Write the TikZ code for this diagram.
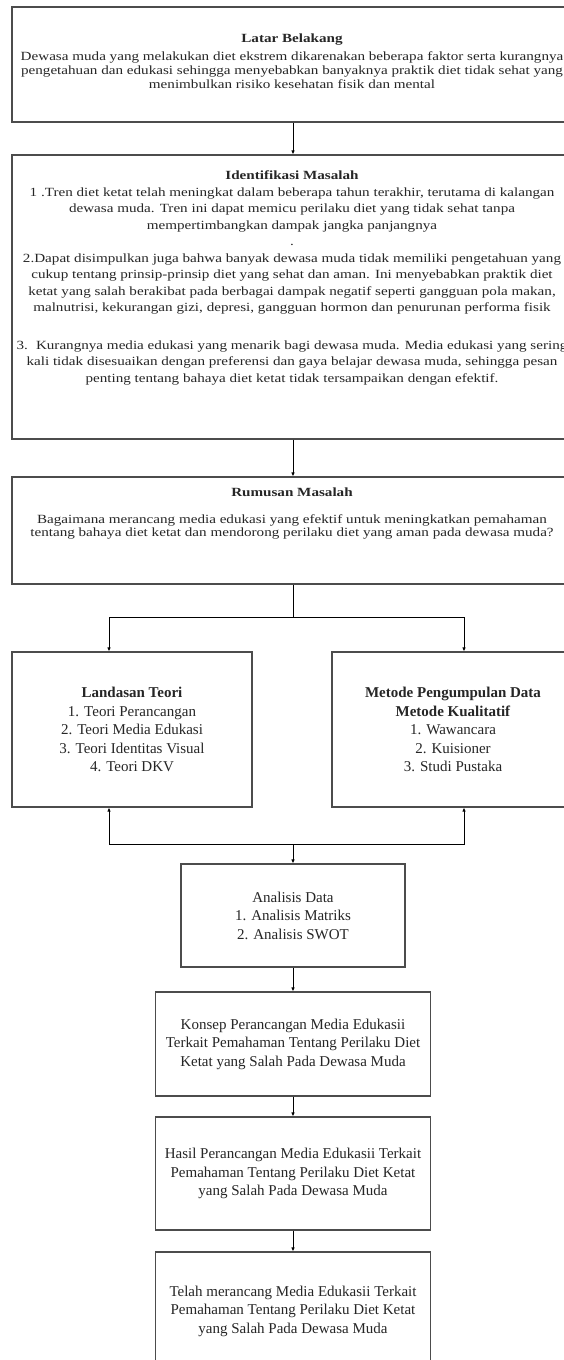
\documentclass[tikz,border=0pt]{standalone}
\usepackage{fontspec}
\setmainfont{Liberation Serif}
\newfontfamily\wideserif[FakeStretch=1.21]{Liberation Serif}
\usetikzlibrary{arrows.meta}

\begin{document}
\begin{tikzpicture}[x=1pt,y=-1pt,
  box/.style={draw=black!70,line width=1.1pt,inner sep=0pt},
  toptext/.style={anchor=north,align=center,inner sep=0pt,text=black!85,
    font=\wideserif\fontsize{12.5}{#1}\selectfont},
  lowtext/.style={align=center,text=black!85,font=\fontsize{15}{18.5}\selectfont},
  arr/.style={-{Latex[length=4pt,width=3.5pt]},line width=0.8pt}]
\useasboundingbox (0,0) rectangle (563,1360);
\fill[white] (0,0) rectangle (563,1360);

% latar belakang
\node[box,minimum width=562pt,minimum height=115pt] (latar) at (293,64.5) {};
\node[toptext=14] (latartext) at (292,33.7) {\textbf{Latar Belakang}\\[3.7pt]
Dewasa muda yang melakukan diet ekstrem dikarenakan beberapa faktor serta kurangnya\\
pengetahuan dan edukasi sehingga menyebabkan banyaknya praktik diet tidak sehat yang\\
menimbulkan risiko kesehatan fisik dan mental};

% identifikasi masalah
\node[box,minimum width=562pt,minimum height=284pt] (identifikasi) at (293,297) {};
\node[toptext=16.5] (identifikasitext) at (292,170.7) {\textbf{Identifikasi Masalah}\\
1 .Tren diet ketat telah meningkat dalam beberapa tahun terakhir, terutama di kalangan\\
dewasa muda. Tren ini dapat memicu perilaku diet yang tidak sehat tanpa\\
mempertimbangkan dampak jangka panjangnya\\
.\\
2.Dapat disimpulkan juga bahwa banyak dewasa muda tidak memiliki pengetahuan yang\\
cukup tentang prinsip-prinsip diet yang sehat dan aman. Ini menyebabkan praktik diet\\
ketat yang salah berakibat pada berbagai dampak negatif seperti gangguan pola makan,\\
malnutrisi, kekurangan gizi, depresi, gangguan hormon dan penurunan performa fisik\\[21pt]
3.\hspace{8pt}Kurangnya media edukasi yang menarik bagi dewasa muda. Media edukasi yang sering\\
kali tidak disesuaikan dengan preferensi dan gaya belajar dewasa muda, sehingga pesan\\
penting tentang bahaya diet ketat tidak tersampaikan dengan efektif.};

% rumusan masalah
\node[box,minimum width=562pt,minimum height=107pt] (rumusan) at (293,530.5) {};
\node[toptext=13.5] (rumusantext) at (292,487.7) {\textbf{Rumusan Masalah}\\[13.2pt]
Bagaimana merancang media edukasi yang efektif untuk meningkatkan pemahaman\\
tentang bahaya diet ketat dan mendorong perilaku diet yang aman pada dewasa muda?};

% landasan dan metode
\node[box,lowtext,minimum width=240pt,minimum height=155pt] (landasan) at (132,729.5)
  {\textbf{Landasan Teori}\\ 1. Teori Perancangan\\ 2. Teori Media Edukasi\\
   3. Teori Identitas Visual\\ 4. Teori DKV};
\node[box,lowtext,minimum width=242pt,minimum height=155pt] (metode) at (453,729.5)
  {\textbf{Metode Pengumpulan Data}\\ \textbf{Metode Kualitatif}\\ 1. Wawancara\\
   2. Kuisioner\\ 3. Studi Pustaka};

% analisis sampai hasil akhir
\node[box,lowtext,minimum width=224pt,minimum height=103pt] (analisis) at (293,915.5)
  {Analisis Data\\ 1. Analisis Matriks\\ 2. Analisis SWOT};
\node[box,lowtext,minimum width=275pt,minimum height=104pt] (konsep) at (293,1044)
  {Konsep Perancangan Media Edukasii\\ Terkait Pemahaman Tentang Perilaku Diet\\
   Ketat yang Salah Pada Dewasa Muda};
\node[box,lowtext,minimum width=275pt,minimum height=113pt] (hasil) at (293,1173.5)
  {Hasil Perancangan Media Edukasii Terkait\\ Pemahaman Tentang Perilaku Diet Ketat\\
   yang Salah Pada Dewasa Muda};
\node[box,lowtext,minimum width=275pt,minimum height=118pt] (telah) at (293,1311)
  {Telah merancang Media Edukasii Terkait\\ Pemahaman Tentang Perilaku Diet Ketat\\
   yang Salah Pada Dewasa Muda};

\coordinate (split) at (293,617);
\coordinate (join) at (293,844);

\draw[arr] (latar) -- (identifikasi);
\draw[arr] (identifikasi) -- (rumusan);
\draw[line width=0.8pt] (rumusan) -- (split);
\draw[arr] (split) -| ([xshift=-23pt]landasan.north);
\draw[arr] (split) -| ([xshift=11pt]metode.north);
\draw[arr] (join) -| ([xshift=-23pt]landasan.south);
\draw[arr] (join) -| ([xshift=11pt]metode.south);
\draw[arr] (join) -- (analisis);
\draw[arr] (analisis) -- (konsep);
\draw[arr] (konsep) -- (hasil);
\draw[arr] (hasil) -- (telah);
\end{tikzpicture}
\end{document}
